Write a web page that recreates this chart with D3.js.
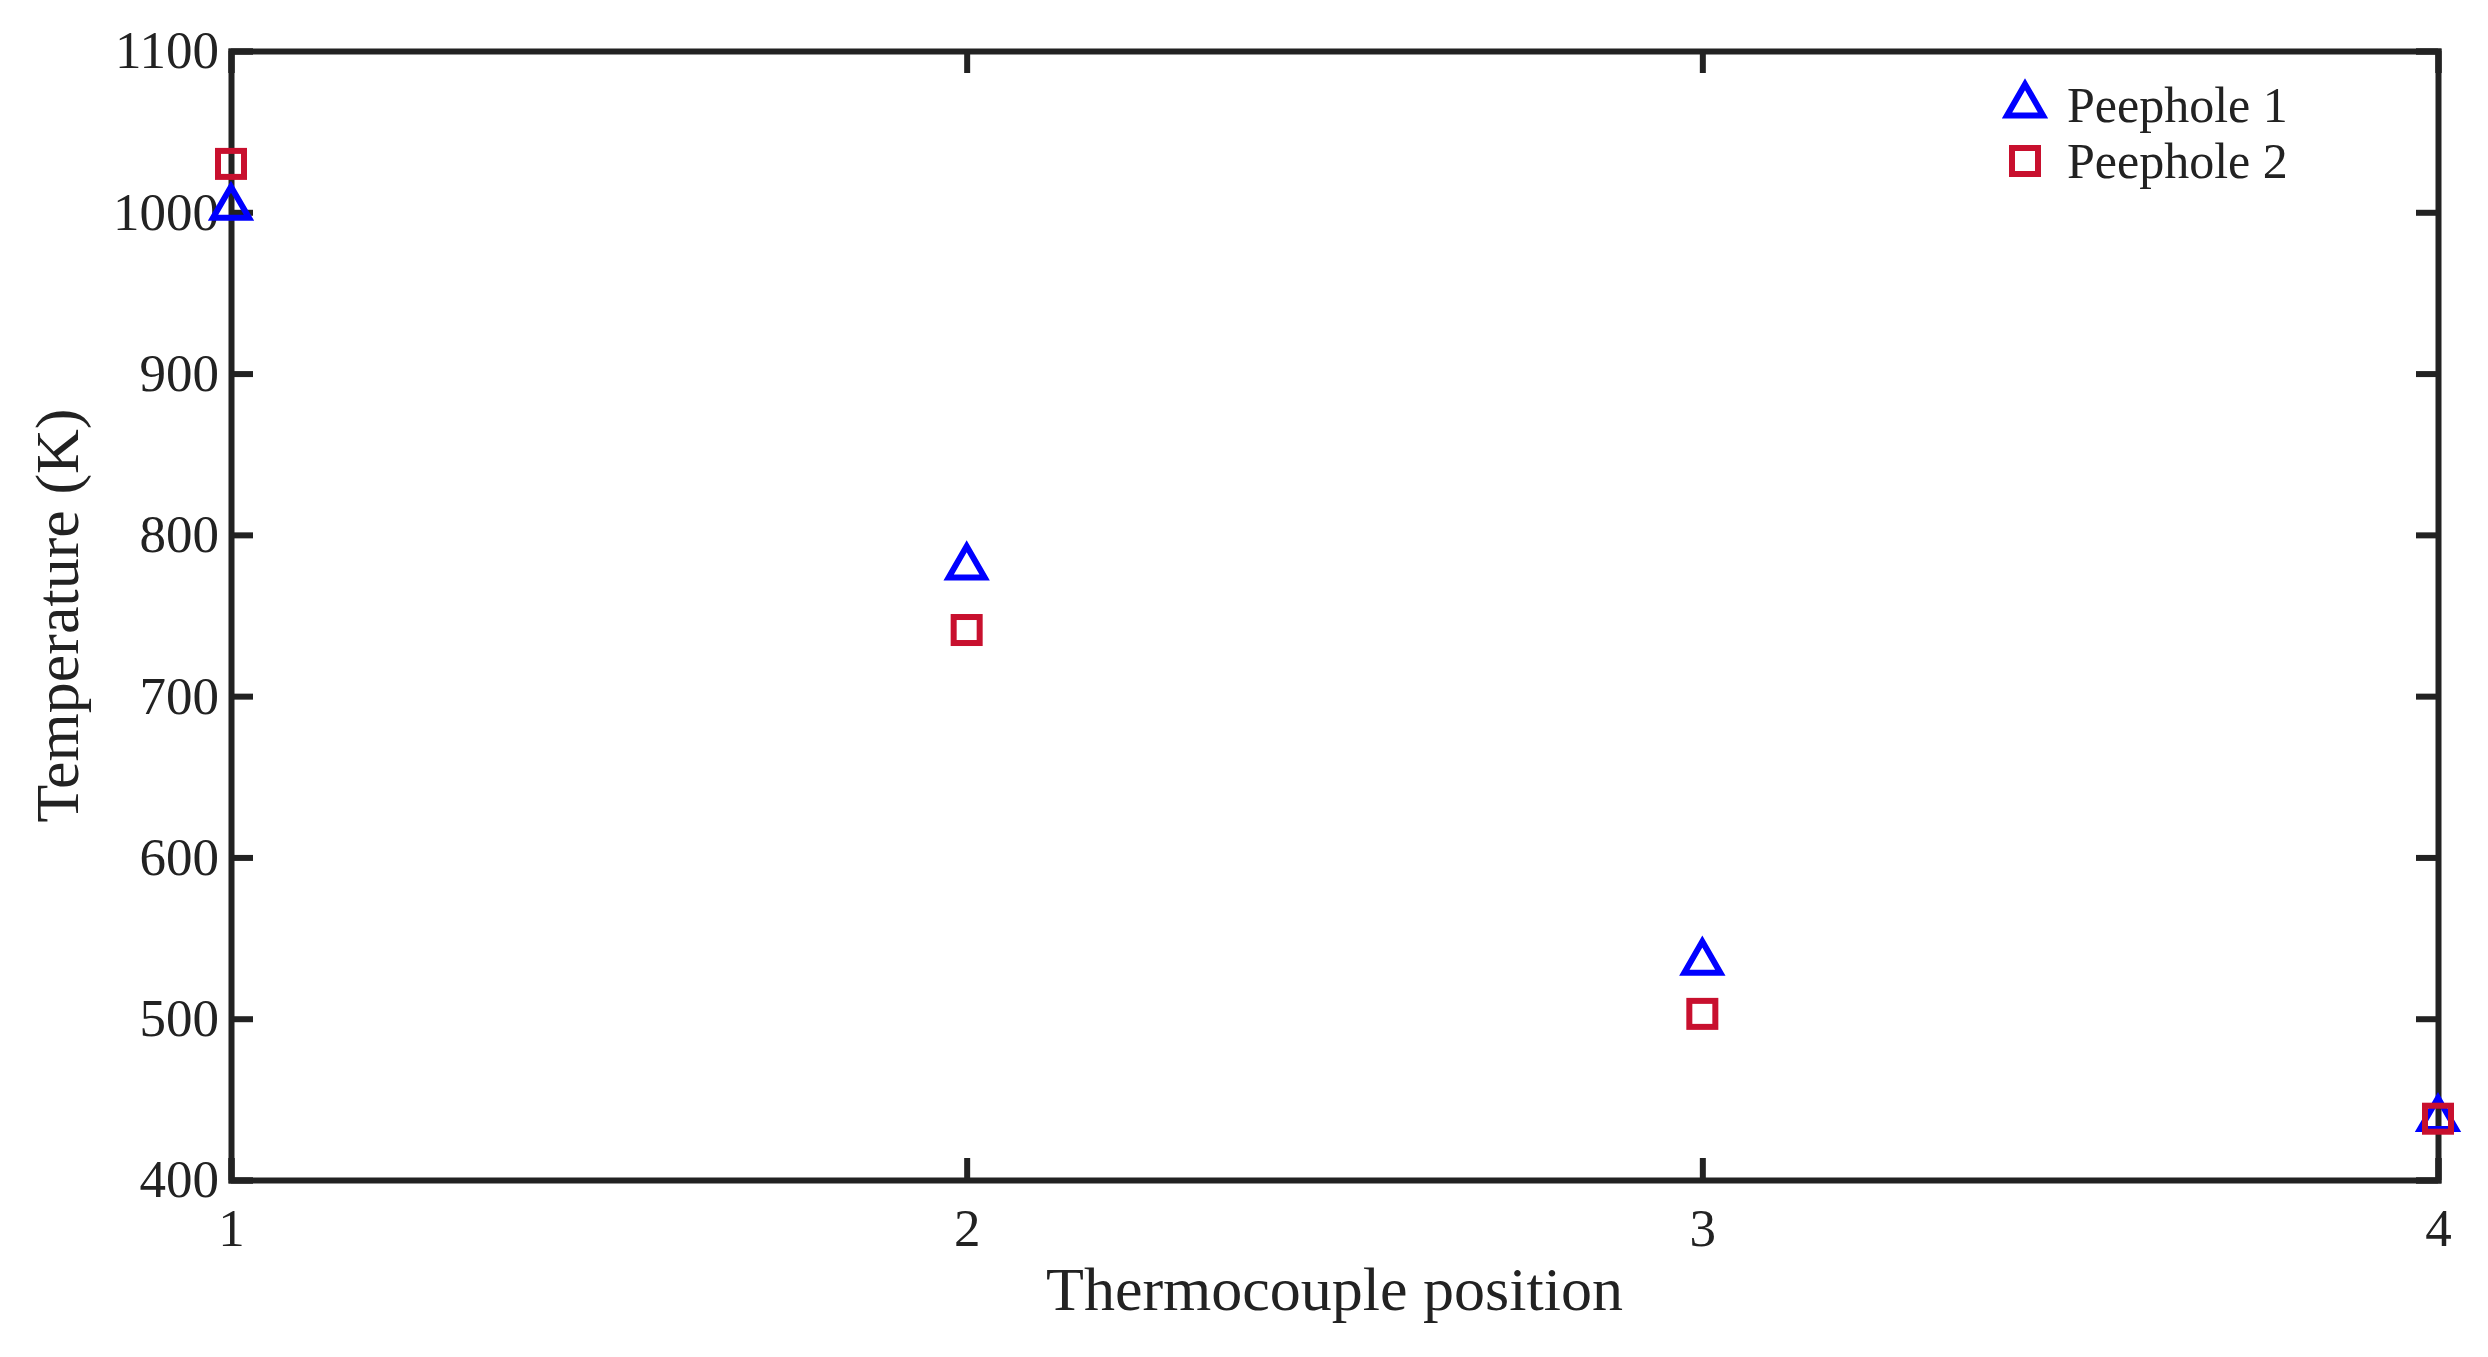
<!DOCTYPE html>
<html>
<head>
<meta charset="utf-8">
<script src="https://cdn.jsdelivr.net/npm/d3@7"></script>
<style>
  body { margin: 0; background: #fff; }
  text { font-family: "Liberation Serif", "DejaVu Serif", serif; fill: #222; }
</style>
</head>
<body>
<script>
// chart data
var positions = [1, 2, 3, 4];
var peephole1 = [1003, 780, 535, 438];
var peephole2 = [1030, 741, 503, 438];
var yTicks = [400, 500, 600, 700, 800, 900, 1000, 1100];
var seriesNames = ["Peephole 1", "Peephole 2"];

var W = 2488, H = 1357;
var m = { left: 231, right: 2438, top: 51, bottom: 1180 };

var svg = d3.select("body").append("svg")
    .attr("width", W)
    .attr("height", H);

var x = d3.scaleLinear().domain([1, 4]).range([m.left, m.right]);
var y = d3.scaleLinear().domain([400, 1100]).range([m.bottom, m.top]);

var tickLen = 22;

// axes, ticks pointing inward on all four sides
svg.append("g")
    .attr("transform", "translate(0," + m.bottom + ")")
    .call(d3.axisBottom(x).tickValues(positions).tickSize(-tickLen).tickPadding(28).tickFormat(d3.format("d")));
svg.append("g")
    .attr("transform", "translate(0," + m.top + ")")
    .call(d3.axisTop(x).tickValues(positions).tickSize(-tickLen).tickFormat(""));
svg.append("g")
    .attr("transform", "translate(" + m.left + ",0)")
    .call(d3.axisLeft(y).tickValues(yTicks).tickSize(-tickLen).tickPadding(12).tickFormat(d3.format("d")));
svg.append("g")
    .attr("transform", "translate(" + m.right + ",0)")
    .call(d3.axisRight(y).tickValues(yTicks).tickSize(-tickLen).tickFormat(""));

svg.selectAll(".domain, .tick line")
    .attr("stroke", "#222")
    .attr("stroke-width", 6);
svg.selectAll(".tick text")
    .style("font-size", "53px")
    .style("font-family", "Liberation Serif, serif")
    .attr("fill", "#222");

// axis titles
svg.append("text")
    .attr("x", (m.left + m.right) / 2)
    .attr("y", 1310)
    .attr("text-anchor", "middle")
    .style("font-size", "62px")
    .text("Thermocouple position");
svg.append("text")
    .attr("transform", "translate(78," + (m.top + m.bottom) / 2 + ") rotate(-90)")
    .attr("text-anchor", "middle")
    .style("font-size", "62px")
    .text("Temperature (K)");

var tri = d3.symbol().type(d3.symbolTriangle).size(560);

svg.append("g").selectAll("path")
    .data(positions)
    .join("path")
    .attr("d", tri)
    .attr("transform", function(d, i) { return "translate(" + x(d) + "," + y(peephole1[i]) + ")"; })
    .attr("fill", "none")
    .attr("stroke", "#0000ff")
    .attr("stroke-width", 6);

svg.append("g").selectAll("rect")
    .data(positions)
    .join("rect")
    .attr("x", function(d) { return x(d) - 13; })
    .attr("y", function(d, i) { return y(peephole2[i]) - 13; })
    .attr("width", 26)
    .attr("height", 26)
    .attr("fill", "none")
    .attr("stroke", "#c8102e")
    .attr("stroke-width", 6);

// legend
var leg = svg.append("g").attr("transform", "translate(2025,105)");
leg.append("path").attr("d", tri).attr("fill", "none").attr("stroke", "#0000ff").attr("stroke-width", 6);
leg.append("rect").attr("x", -13).attr("y", 56 - 13).attr("width", 26).attr("height", 26)
    .attr("fill", "none").attr("stroke", "#c8102e").attr("stroke-width", 6);
leg.selectAll("text.lbl")
    .data(seriesNames)
    .join("text")
    .attr("class", "lbl")
    .attr("x", 42)
    .attr("y", function(d, i) { return i * 56 + 17; })
    .style("font-size", "50px")
    .text(function(d) { return d; });
</script>
</body>
</html>
